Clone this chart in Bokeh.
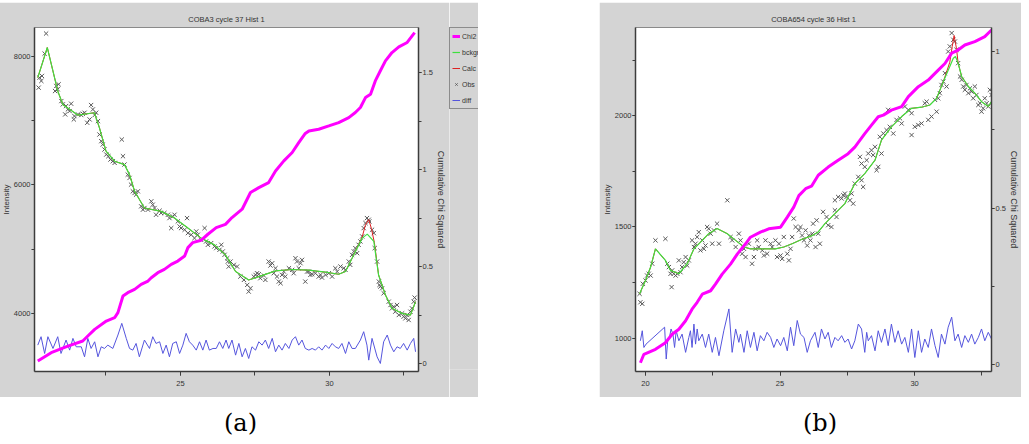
from bokeh.plotting import figure
from bokeh.models import (Range1d, LinearAxis, SingleIntervalTicker, Legend, LegendItem,
                          Div, Spacer, CustomJSTickFormatter)
from bokeh.layouts import row, column
from bokeh.embed import file_html
from bokeh.resources import INLINE

# ---------------- panel (a) data ----------------
title_a = "COBA3 cycle 37 Hist 1"
obs_a_x = [20.24, 20.27, 20.33, 20.35, 20.44, 20.49, 20.79, 20.83, 20.88, 20.91,
           21.00, 21.05, 21.13, 21.16, 21.22, 21.28, 21.33, 21.42, 21.44, 21.56,
           21.67, 21.72, 21.78, 21.87, 21.95, 22.00, 22.06, 22.12, 22.17, 22.23,
           22.28, 22.34, 22.39, 22.45, 22.51, 22.58, 22.65, 22.73, 22.79, 23.03,
           23.07, 23.12, 23.23, 23.29, 23.34, 23.40, 23.46, 23.51, 23.57, 23.68,
           23.74, 23.79, 23.91, 24.02, 24.07, 24.13, 24.18, 24.30, 24.35, 24.46,
           24.58, 24.63, 24.69, 24.74, 24.80, 24.91, 24.97, 25.02, 25.14, 25.22,
           25.25, 25.36, 25.47, 25.53, 25.58, 25.69, 25.81, 25.86, 25.92, 26.03,
           26.14, 26.20, 26.31, 26.37, 26.42, 26.48, 26.59, 26.62, 26.57, 26.68,
           26.79, 26.90, 27.01, 27.13, 27.24, 27.29, 27.35, 27.46, 27.52, 27.57,
           27.63, 27.68, 27.80, 27.85, 27.96, 28.02, 28.08, 28.13, 28.19, 28.24,
           28.30, 28.36, 28.41, 28.47, 28.52, 28.64, 28.75, 28.80, 28.86, 28.91,
           28.97, 29.03, 29.08, 29.19, 29.25, 29.31, 29.36, 29.42, 29.53, 29.64,
           29.70, 29.75, 29.87, 29.98, 30.09, 30.20, 30.26, 30.37, 30.48, 30.54,
           30.65, 30.70, 30.76, 30.82, 30.87, 30.93, 30.98, 31.04, 31.10, 31.15,
           31.21, 31.26, 31.32, 31.34, 31.43, 31.49, 31.52, 31.60, 31.66, 31.68,
           31.71, 31.77, 31.82, 31.99, 32.05, 32.10, 32.16, 32.21, 32.27, 32.33,
           32.44, 32.49, 32.55, 32.61, 32.66, 32.72, 32.77, 32.83, 32.86]
obs_a_y = [7516, 7672, 7620, 7698, 8047, 8359, 7463, 7542, 7490, 7568,
           7307, 7255, 7099, 7229, 7177, 7151, 7266, 7021, 7073, 7099,
           7089, 7109, 7125, 6969, 7021, 7245, 7177, 7089, 7125, 6995,
           6786, 6682, 6630, 6552, 6474, 6448, 6396, 6370, 6344, 6708,
           6448, 6318, 6161, 6109, 6005, 5901, 5875, 5849, 5901, 5667,
           5615, 5641, 5615, 5745, 5693, 5641, 5536, 5599, 5563, 5563,
           5536, 5484, 5328, 5510, 5536, 5432, 5354, 5328, 5302, 5484,
           5250, 5224, 5172, 5276, 5224, 5146, 5328, 5120, 5068, 5094,
           5042, 5016, 4990, 5068, 4964, 4912, 4807, 4729, 4859, 4807,
           4755, 4729, 4573, 4521, 4443, 4339, 4391, 4573, 4599, 4625,
           4609, 4547, 4589, 4521, 4807, 4745, 4781, 4625, 4703, 4573,
           4495, 4469, 4599, 4651, 4573, 4703, 4677, 4625, 4859, 4807,
           4703, 4781, 4833, 4495, 4651, 4651, 4599, 4609, 4625, 4573,
           4599, 4557, 4599, 4625, 4573, 4703, 4651, 4729, 4703, 4677,
           4807, 4755, 4911, 4964, 5016, 4938, 5068, 5120, 5198, 5328,
           5406, 5484, 5458, 5432, 5302, 5250, 5016, 4807, 4495, 4443,
           4417, 4391, 4313, 4182, 4130, 4078, 4104, 4026, 4130, 3974,
           4000, 3948, 3922, 3974, 3896, 4026, 4078, 4182, 4245]
bck_a_x = [20.21, 20.53, 20.88, 21.05, 21.55, 22.11, 22.28, 22.50, 22.79, 23.12,
           23.29, 23.46, 23.79, 24.35, 24.80, 25.25, 25.69, 26.14, 26.51, 26.85,
           27.29, 27.63, 28.19, 28.75, 29.30, 29.87, 30.31, 30.54, 30.76, 31.10,
           31.27, 31.49, 31.65, 31.88, 32.10, 32.44, 32.72, 32.89]
bck_a_y = [7672, 8141, 7464, 7255, 7089, 7125, 6890, 6527, 6370, 6317,
           6161, 5902, 5641, 5589, 5484, 5328, 5172, 5067, 4911, 4652,
           4520, 4573, 4661, 4683, 4672, 4641, 4609, 4652, 4859, 5172,
           5234, 5120, 4598, 4286, 4078, 4000, 3973, 4183]
calc_a_x = [20.21, 20.53, 20.88, 21.05, 21.55, 22.11, 22.28, 22.50, 22.79, 23.12,
            23.29, 23.46, 23.79, 24.35, 24.80, 25.25, 25.69, 26.14, 26.51, 26.85,
            27.29, 27.63, 28.19, 28.75, 29.30, 29.87, 30.31, 30.54, 30.76, 31.10,
            31.21, 31.32, 31.41, 31.51, 31.65, 31.88, 32.10, 32.44, 32.72, 32.89]
calc_a_y = [7672, 8141, 7464, 7255, 7089, 7125, 6890, 6527, 6370, 6317,
            6161, 5902, 5641, 5589, 5484, 5328, 5172, 5067, 4911, 4652,
            4520, 4573, 4661, 4683, 4672, 4641, 4609, 4652, 4859, 5190,
            5380, 5460, 5320, 5100, 4598, 4286, 4078, 4000, 3973, 4183]
chi_a_x = [20.21, 20.66, 21.22, 21.72, 21.89, 22.12, 22.51, 22.79, 22.90, 23.07,
           23.23, 23.46, 23.68, 23.91, 24.02, 24.24, 24.46, 24.69, 24.91, 25.14,
           25.25, 25.41, 25.69, 25.92, 26.20, 26.51, 26.73, 27.07, 27.35, 27.63,
           27.96, 28.19, 28.47, 28.75, 28.97, 29.19, 29.31, 29.64, 29.98, 30.31,
           30.65, 30.87, 31.04, 31.21, 31.38, 31.54, 31.71, 31.88, 32.10, 32.33,
           32.61, 32.86]
chi_a_y = [0.014, 0.057, 0.091, 0.117, 0.143, 0.177, 0.220, 0.237, 0.263, 0.349,
           0.366, 0.383, 0.409, 0.426, 0.443, 0.469, 0.486, 0.512, 0.529, 0.555,
           0.598, 0.624, 0.636, 0.667, 0.701, 0.718, 0.753, 0.796, 0.882, 0.907,
           0.933, 0.993, 1.045, 1.088, 1.139, 1.186, 1.199, 1.208, 1.225, 1.242,
           1.268, 1.294, 1.320, 1.371, 1.388, 1.457, 1.509, 1.560, 1.603, 1.632,
           1.655, 1.706]
diff_a_x = [20.21, 20.32, 20.44, 20.55, 20.72, 20.88, 20.99, 21.16, 21.28, 21.39,
            21.50, 21.67, 21.78, 21.89, 22.00, 22.12, 22.23, 22.34, 22.45, 22.56,
            22.73, 22.90, 23.03, 23.18, 23.29, 23.40, 23.51, 23.62, 23.79, 23.96,
            24.07, 24.18, 24.30, 24.41, 24.52, 24.63, 24.74, 24.86, 24.97, 25.08,
            25.19, 25.30, 25.41, 25.53, 25.64, 25.75, 25.86, 25.97, 26.09, 26.20,
            26.31, 26.42, 26.53, 26.62, 26.73, 26.85, 26.96, 27.07, 27.18, 27.29,
            27.40, 27.52, 27.63, 27.74, 27.85, 27.96, 28.08, 28.19, 28.30, 28.41,
            28.52, 28.64, 28.75, 28.86, 28.97, 29.08, 29.19, 29.31, 29.42, 29.53,
            29.64, 29.75, 29.87, 29.98, 30.09, 30.20, 30.31, 30.42, 30.54, 30.65,
            30.76, 30.87, 31.04, 31.15, 31.26, 31.32, 31.43, 31.60, 31.71, 31.82,
            31.94, 32.05, 32.16, 32.27, 32.38, 32.49, 32.61, 32.72, 32.83, 32.89]
diff_a_y = [3505, 3636, 3375, 3636, 3453, 3636, 3375, 3584, 3427, 3610,
            3479, 3479, 3323, 3610, 3453, 3557, 3323, 3479, 3453, 3505,
            3453, 3662, 3844, 3610, 3453, 3427, 3531, 3323, 3584, 3453,
            3636, 3531, 3557, 3375, 3505, 3323, 3531, 3557, 3375, 3505,
            3688, 3557, 3505, 3427, 3557, 3427, 3584, 3427, 3453, 3453,
            3557, 3453, 3584, 3453, 3584, 3349, 3531, 3323, 3453, 3297,
            3479, 3427, 3557, 3505, 3584, 3453, 3610, 3401, 3505, 3427,
            3531, 3453, 3584, 3636, 3505, 3584, 3453, 3427, 3453, 3427,
            3479, 3427, 3505, 3453, 3531, 3479, 3453, 3531, 3375, 3557,
            3453, 3453, 3584, 3714, 3505, 3271, 3610, 3323, 3219, 3557,
            3662, 3505, 3401, 3479, 3453, 3531, 3427, 3531, 3610, 3401]

# ---------------- panel (b) data ----------------
title_b = "COBA654 cycle 36 Hist 1"
obs_b_x = [19.78, 19.81, 19.88, 19.90, 20.00, 20.06, 20.12, 20.19, 20.25, 20.37,
           20.74, 20.81, 20.87, 20.93, 20.97, 20.99, 21.05, 21.12, 21.18, 21.24,
           21.30, 21.36, 21.42, 21.49, 21.55, 21.61, 21.73, 21.80, 21.86, 21.92,
           21.98, 22.04, 22.11, 22.17, 22.23, 22.29, 22.35, 22.42, 22.48, 22.54,
           22.66, 22.73, 23.04, 23.16, 23.22, 23.35, 23.47, 23.53, 23.59, 23.66,
           23.72, 23.84, 23.96, 24.03, 24.09, 24.15, 24.21, 24.34, 24.40, 24.46,
           24.52, 24.65, 24.71, 24.83, 24.89, 24.96, 25.02, 25.08, 25.14, 25.27,
           25.33, 25.39, 25.45, 25.51, 25.58, 25.70, 25.76, 25.82, 25.89, 25.95,
           26.01, 26.07, 26.13, 26.20, 26.32,
           26.23, 26.36, 26.42, 26.48, 26.60, 26.73, 26.79, 26.91, 27.04, 27.10,
           27.04, 27.16, 27.29, 27.35, 27.41, 27.47, 27.60, 27.66, 27.72, 27.78,
           27.91, 28.03, 28.09, 28.15, 27.97, 28.03, 28.22, 28.28, 28.40, 28.46,
           28.53, 28.59, 28.65, 28.77, 28.71, 28.84, 28.96, 29.08, 29.02, 29.21,
           29.33, 29.46, 29.52, 29.64, 29.77, 29.89, 30.01, 30.14, 29.89, 30.26,
           30.38, 30.45, 30.51, 30.63, 30.76, 30.82, 30.88, 30.94, 31.00, 31.07,
           31.13, 31.19, 31.25, 31.31, 31.38, 31.44, 31.50, 31.56, 31.62, 31.69,
           31.75, 31.81, 31.87, 31.93, 32.00, 32.06, 32.12, 32.18, 32.24, 32.30,
           32.37, 32.43, 32.49, 32.55, 32.61, 32.68, 32.74, 32.80, 32.86]
obs_b_y = [1200, 1162, 1155, 1245, 1260, 1282, 1290, 1282, 1335, 1440,
           1447, 1335, 1320, 1290, 1230, 1305, 1290, 1282, 1290, 1350,
           1297, 1320, 1342, 1365, 1327, 1350, 1440, 1410, 1425, 1455,
           1477, 1395, 1440, 1402, 1417, 1500, 1492, 1470, 1425, 1485,
           1515, 1425, 1620, 1455, 1440, 1410, 1470, 1440, 1380, 1402,
           1365, 1425, 1335, 1365, 1402, 1440, 1410, 1395, 1372, 1440,
           1380, 1425, 1410, 1440, 1365, 1425, 1372, 1357, 1455, 1380,
           1350, 1402, 1455, 1538, 1500, 1485, 1500, 1462, 1440, 1485,
           1417, 1462, 1440, 1470, 1410,
           1515, 1530, 1470, 1425, 1568, 1545, 1508, 1500, 1575, 1545,
           1620, 1635, 1628, 1643, 1650, 1635, 1620, 1650, 1605, 1695,
           1725, 1710, 1680, 1770, 1815, 1785, 1800, 1830, 1845, 1823,
           1860, 1755, 1770, 1830, 1905, 1920, 1935, 1950, 2026, 1920,
           1981, 1988, 1965, 2041, 2026, 2011, 1950, 1958, 1913, 1965,
           2056, 2063, 1981, 1996, 2071, 2018, 2078, 2101, 2138, 2153,
           2191, 2131, 2288, 2311, 2371, 2341, 2333, 2296, 2236, 2176,
           2161, 2131, 2116, 2138, 2101, 2123, 2108, 2078, 2131, 2093,
           2048, 2056, 2018, 2033, 2078, 2056, 2041, 2116, 2093]
bck_b_x = [19.78, 20.00, 20.19, 20.37, 20.74, 20.93, 21.24, 21.55, 21.80, 22.11,
           22.35, 22.66, 23.04, 23.35, 23.66, 23.90, 24.34, 24.83, 25.14, 25.45,
           25.82, 26.17, 26.42, 26.67, 27.04, 27.41, 27.78, 28.15, 28.53, 28.77,
           29.14, 29.52, 29.89, 30.26, 30.57, 30.82, 31.07, 31.31, 31.44, 31.52,
           31.62, 31.75, 32.00, 32.24, 32.49, 32.74, 32.86]
bck_b_y = [1200, 1260, 1320, 1402, 1350, 1305, 1290, 1335, 1402, 1440,
           1470, 1493, 1470, 1440, 1410, 1402, 1402, 1402, 1410, 1425,
           1445, 1460, 1478, 1515, 1560, 1605, 1695, 1740, 1800, 1890,
           1950, 1996, 2033, 2038, 2048, 2078, 2153, 2221, 2258, 2266,
           2236, 2176, 2131, 2101, 2063, 2041, 2063]
calc_b_x = [19.78, 20.00, 20.19, 20.37, 20.74, 20.93, 21.24, 21.55, 21.80, 22.11,
            22.35, 22.66, 23.04, 23.35, 23.66, 23.90, 24.34, 24.83, 25.14, 25.45,
            25.82, 26.17, 26.42, 26.67, 27.04, 27.41, 27.78, 28.15, 28.53, 28.77,
            29.14, 29.52, 29.89, 30.26, 30.57, 30.82, 31.07, 31.31, 31.40, 31.47,
            31.56, 31.62, 31.75, 32.00, 32.24, 32.49, 32.74, 32.86]
calc_b_y = [1200, 1260, 1320, 1402, 1350, 1305, 1290, 1335, 1402, 1440,
            1470, 1493, 1470, 1440, 1410, 1402, 1402, 1402, 1410, 1425,
            1445, 1460, 1478, 1515, 1560, 1605, 1695, 1740, 1800, 1890,
            1950, 1996, 2033, 2038, 2048, 2078, 2153, 2240, 2311, 2360,
            2300, 2236, 2176, 2131, 2101, 2063, 2041, 2063]
chi_b_x = [19.81, 19.94, 20.37, 20.74, 20.99, 21.24, 21.49, 21.73, 21.92, 22.11,
           22.42, 22.60, 22.85, 23.16, 23.41, 23.72, 23.90, 24.27, 24.58, 25.02,
           25.27, 25.51, 25.70, 25.95, 26.17, 26.42, 26.79, 27.16, 27.53, 27.78,
           28.15, 28.40, 28.65, 28.84, 29.14, 29.52, 29.77, 30.14, 30.51, 30.88,
           31.13, 31.38, 31.62, 31.87, 32.24, 32.61, 32.86]
chi_b_y = [0.006, 0.033, 0.049, 0.070, 0.097, 0.113, 0.140, 0.177, 0.199, 0.225,
           0.236, 0.257, 0.289, 0.321, 0.353, 0.386, 0.407, 0.423, 0.434, 0.439,
           0.471, 0.503, 0.540, 0.562, 0.570, 0.605, 0.631, 0.653, 0.674, 0.695,
           0.738, 0.765, 0.792, 0.797, 0.813, 0.824, 0.856, 0.888, 0.909, 0.941,
           0.962, 0.995, 1.005, 1.021, 1.032, 1.048, 1.069]
diff_b_x = [19.81, 19.88, 19.94, 20.02, 20.71, 20.77, 20.83, 20.89, 20.95, 21.02,
            21.08, 21.14, 21.24, 21.36, 21.49, 21.61, 21.67, 21.73, 21.80, 21.86,
            21.92, 21.98, 22.11, 22.23, 22.35, 22.48, 22.60, 22.73, 22.91, 23.10,
            23.22, 23.35, 23.47, 23.53, 23.66, 23.78, 23.90, 24.03, 24.15, 24.27,
            24.40, 24.52, 24.65, 24.77, 24.89, 25.02, 25.14, 25.27, 25.39, 25.51,
            25.64, 25.76, 25.89, 26.01, 26.13,
            26.30, 26.42, 26.54, 26.67, 26.79, 26.91, 27.04, 27.16, 27.29, 27.41,
            27.53, 27.66, 27.78, 27.91, 28.03, 28.15, 28.22, 28.28, 28.40, 28.53,
            28.65, 28.77, 28.90, 29.02, 29.14, 29.27, 29.39, 29.52, 29.64, 29.77,
            29.89, 30.01, 30.14, 30.26, 30.38, 30.51, 30.63, 30.76, 30.88, 31.00,
            31.13, 31.25, 31.38, 31.50, 31.62, 31.75, 31.87, 32.00, 32.12, 32.24,
            32.37, 32.49, 32.61, 32.74, 32.86]
diff_b_y = [989, 1034, 959, 974, 1050, 907, 997, 1004, 1042, 1019,
            959, 1034, 989, 1019, 937, 1004, 1034, 959, 1064, 974,
            1042, 989, 1019, 959, 1019, 937, 1004, 922, 1034, 1132,
            937, 1042, 982, 1019, 937, 1034, 959, 1027, 944, 1012,
            989, 1027, 1004, 959, 997, 967, 1004, 944, 1050, 967,
            1080, 1019, 1004, 937, 989,
            1027, 959, 1042, 997, 1027, 959, 1004, 989, 1012, 982,
            997, 952, 989, 1064, 1042, 937, 1027, 989, 1012, 944,
            1034, 982, 1042, 967, 1064, 982, 1034, 974, 1004, 937,
            1042, 914, 1034, 937, 997, 959, 1042, 967, 914, 1019,
            974, 1050, 1095, 989, 1019, 959, 1012, 982, 1019, 974,
            1004, 1042, 989, 1027, 997]

legend_labels = ["Chi2", "bckgr", "Calc", "Obs", "diff"]

GRAY = "#d4d4d4"
SANS = "Liberation Sans"
AXC = "#3c3c3c"
C_DIFF, C_OBS, C_CALC, C_BCK, C_CHI = "#5555dd", "#5a5a5a", "#dd2222", "#3ee03e", "#ff00ff"


def style_axis(ax):
    ax.axis_line_color = AXC
    ax.axis_line_width = 1.5
    ax.major_tick_line_color = AXC
    ax.minor_tick_line_color = AXC
    ax.major_tick_out = 3
    ax.major_tick_in = 0
    ax.minor_tick_out = 3
    ax.minor_tick_in = 0
    ax.major_label_text_font = SANS
    ax.major_label_text_font_size = "7.5px"
    ax.major_label_text_color = "#333333"
    ax.major_label_standoff = 2
    ax.axis_label_text_font = SANS
    ax.axis_label_text_font_size = "8px"
    ax.axis_label_text_font_style = "normal"
    ax.axis_label_text_color = "#333333"
    ax.axis_label_standoff = 1


def make_panel(title, fw, xr, yr, y2r, yint,
               ox, oy, bx, by, cx, cy, chx, chy, dx, dy):
    p = figure(frame_width=fw, frame_height=344, output_backend="svg", toolbar_location=None,
               x_range=Range1d(*xr), y_range=Range1d(*yr),
               min_border_left=31, min_border_right=31,
               min_border_top=23, min_border_bottom=28,
               background_fill_color="white", border_fill_color=GRAY,
               outline_line_color="#8a8a8a")
    p.extra_y_ranges = {"chi": Range1d(*y2r)}
    p.grid.visible = False

    p.title.text = title
    p.title.align = "center"
    p.title.text_font = SANS
    p.title.text_font_size = "7.5px"
    p.title.text_font_style = "normal"
    p.title.text_color = "#333333"
    p.title.standoff = 7

    p.xaxis.ticker = SingleIntervalTicker(interval=5, num_minor_ticks=2)
    p.yaxis.ticker = SingleIntervalTicker(interval=yint, num_minor_ticks=2)
    p.yaxis.axis_label = "Intensity"
    style_axis(p.xaxis[0])
    style_axis(p.yaxis[0])
    p.yaxis.major_label_standoff = 1
    p.yaxis.axis_label_standoff = 0
    p.xaxis.major_label_standoff = 5
    p.xaxis.major_tick_out = 4
    p.xaxis.minor_tick_out = 4

    rax = LinearAxis(y_range_name="chi",
                     ticker=SingleIntervalTicker(interval=0.5, num_minor_ticks=2),
                     formatter=CustomJSTickFormatter(code="return String(Math.round(tick*100)/100);"),
                     axis_label="Cumulative Chi Squared")
    style_axis(rax)
    rax.axis_label_text_font_size = "9px"
    rax.major_label_standoff = 1
    rax.axis_label_standoff = 0
    p.add_layout(rax, "right")

    p.line(x=dx, y=dy, line_color=C_DIFF, line_width=1)
    p.scatter(x=ox, y=oy, marker="x", size=6, line_color=C_OBS, line_width=1)
    p.line(x=cx, y=cy, line_color=C_CALC, line_width=1)
    p.line(x=bx, y=by, line_color=C_BCK, line_width=1.2)
    p.line(x=chx, y=chy, y_range_name="chi", line_color=C_CHI, line_width=3)
    return p


def make_legend_strip(width, ox, oy, bx, by, cx, cy, chx, chy, dx, dy):
    # narrow grey strip right of the axis carrying the key; the series lie
    # outside its (0, 1) ranges, so only the key glyphs are visible here
    lf = figure(width=width, height=395, output_backend="svg", toolbar_location=None,
                title=None, x_axis_location=None, y_axis_location=None,
                x_range=Range1d(0, 1), y_range=Range1d(0, 1),
                min_border_left=0, min_border_right=0, min_border_top=25, min_border_bottom=0,
                border_fill_color=GRAY, background_fill_color=GRAY)
    lf.outline_line_color = None
    lf.grid.visible = False
    k_chi = lf.line(x=chx, y=chy, line_color=C_CHI, line_width=3)
    k_bck = lf.line(x=bx, y=by, line_color=C_BCK, line_width=1.2)
    k_calc = lf.line(x=cx, y=cy, line_color=C_CALC, line_width=1)
    k_obs = lf.scatter(x=ox, y=oy, marker="x", size=6, line_color=C_OBS, line_width=1)
    k_diff = lf.line(x=dx, y=dy, line_color=C_DIFF, line_width=1)
    rends = [k_chi, k_bck, k_calc, k_obs, k_diff]
    legend = Legend(items=[LegendItem(label=l, renderers=[r]) for l, r in zip(legend_labels, rends)],
                    location="top_left", orientation="vertical",
                    border_line_color="#444444", border_line_width=1,
                    background_fill_color=GRAY, background_fill_alpha=1.0,
                    label_text_font=SANS, label_text_font_size="7px",
                    label_text_color="#333333",
                    glyph_width=8, glyph_height=12, label_height=12,
                    label_standoff=2, spacing=4, padding=2, margin=0)
    lf.add_layout(legend)
    return lf


pa = make_panel(title_a, 384, (20.10, 32.99), (3094, 8453), (-0.04, 1.732), 2000,
                obs_a_x, obs_a_y, bck_a_x, bck_a_y, calc_a_x, calc_a_y,
                chi_a_x, chi_a_y, diff_a_x, diff_a_y)
pb = make_panel(title_b, 356, (19.628, 32.86), (851, 2396), (-0.022, 1.077), 500,
                obs_b_x, obs_b_y, bck_b_x, bck_b_y, calc_b_x, calc_b_y,
                chi_b_x, chi_b_y, diff_b_x, diff_b_y)
la = make_legend_strip(29, obs_a_x, obs_a_y, bck_a_x, bck_a_y, calc_a_x, calc_a_y,
                       chi_a_x, chi_a_y, diff_a_x, diff_a_y)
lb = make_legend_strip(14, obs_b_x, obs_b_y, bck_b_x, bck_b_y, calc_b_x, calc_b_y,
                       chi_b_x, chi_b_y, diff_b_x, diff_b_y)

cap_tpl = ('<div style="width:%dpx;text-align:center;font-family:\'DejaVu Serif\';'
           'font-size:24px;line-height:28px;padding-top:7px;color:#000;">%s</div>')
cap_a = Div(text=cap_tpl % (475, "(a)"), width=475, height=31)
cap_b = Div(text=cap_tpl % (432, "(b)"), width=432, height=31)

layout = column(Spacer(height=2, width=1023),
                row(column(row(pa, la), cap_a), Spacer(width=116, height=426),
                    column(row(pb, lb), cap_b)),
                styles={"margin-left": "-2px", "max-width": "1023px", "overflow": "hidden"})

open("out.html", "w").write(file_html(layout, INLINE))
